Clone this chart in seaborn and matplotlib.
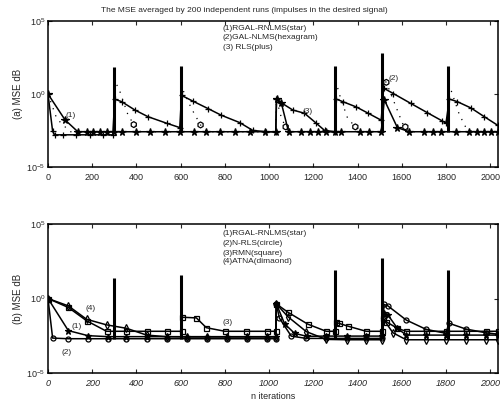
import matplotlib
matplotlib.use("Agg")
import matplotlib.pyplot as plt
import matplotlib.ticker as mticker
import seaborn as sns

# ---- data (MSE, linear units on a log axis) ----
impulse_x = [300, 600, 1300, 1510, 1810]

# (a) top panel
top_star_x = [0, 77, 135, 175, 205, 235, 265, 300, 333, 400, 460, 528, 596, 660, 714, 776,
              844, 912, 980, 1030, 1034, 1055, 1088, 1145, 1183, 1220, 1258, 1300, 1326,
              1409, 1453, 1507, 1521, 1580, 1634, 1702, 1740, 1777, 1845, 1905, 1942,
              1972, 2003, 2035]
top_star_y = [1.0, 1.7e-2, 2.6e-3, 2.6e-3, 2.6e-3, 2.6e-3, 2.6e-3, 2.6e-3, 2.6e-3, 2.6e-3,
              2.6e-3, 2.6e-3, 2.6e-3, 2.6e-3, 2.6e-3, 2.6e-3, 2.6e-3, 2.6e-3, 2.6e-3, 2.6e-3,
              0.45, 0.25, 2.6e-3, 2.6e-3, 2.6e-3, 2.6e-3, 2.6e-3, 2.6e-3, 2.6e-3, 2.6e-3,
              2.6e-3, 2.6e-3, 0.4, 5e-3, 2.6e-3, 2.6e-3, 2.6e-3, 2.6e-3, 2.6e-3, 2.6e-3,
              2.6e-3, 2.6e-3, 2.6e-3, 2.6e-3]

top_gal_x = [0, 40, 100, 298, 302, 320, 361, 388, 420, 600, 604, 649, 690, 720, 1030, 1033,
             1056, 1075, 1100, 1300, 1303, 1322, 1355, 1390, 1420, 1510, 1513, 1530, 1603,
             1616, 1640, 1810, 1813, 1860, 1890, 1920, 2035]
top_gal_y = [1.0, 2e-2, 2.6e-3, 2.6e-3, 7.0, 2.5, 4e-2, 8e-3, 2.6e-3, 2.6e-3, 3.0, 0.1,
             7.6e-3, 2.6e-3, 2.6e-3, 0.45, 2.2e-2, 5.6e-3, 2.6e-3, 2.6e-3, 6.3, 0.6, 2.2e-2,
             5.6e-3, 2.6e-3, 2.6e-3, 10.0, 6.3, 1e-2, 5.6e-3, 2.6e-3, 2.6e-3, 5.0, 4e-2,
             5e-3, 2.6e-3, 2.6e-3]
top_gal_mark_x = [388, 690, 1075, 1390, 1530, 1616]
top_gal_mark_y = [8e-3, 7.6e-3, 5.6e-3, 5.6e-3, 6.3, 5.6e-3]

top_rls_x = [0, 21, 30, 66, 126, 190, 250, 293, 302, 333, 393, 452, 536, 596, 604, 656,
             724, 784, 867, 926, 987, 1030, 1033, 1055, 1107, 1160, 1213, 1251, 1298, 1303,
             1333, 1394, 1446, 1507, 1518, 1562, 1640, 1716, 1784, 1800, 1815, 1851, 1913,
             1973, 2035]
top_rls_y = [1.0, 2.8e-3, 1.6e-3, 1.6e-3, 1.6e-3, 1.6e-3, 1.6e-3, 1.6e-3, 0.44, 0.3, 0.08,
             2.8e-2, 1e-2, 5e-3, 0.8, 0.32, 0.1, 3.5e-2, 1.1e-2, 3.2e-3, 2.6e-3, 2.6e-3,
             0.45, 0.25, 0.08, 4.8e-2, 1e-2, 3.2e-3, 2.6e-3, 0.45, 0.3, 0.13, 5e-2, 1.6e-2,
             2.5, 1.07, 0.23, 5.2e-2, 1.4e-2, 1e-2, 0.45, 0.3, 0.11, 2.8e-2, 7e-3]

top_spike_top = [70, 80, 80, 630, 80]
top_spike_base = 2.6e-3

# (b) bottom panel
bot_star_x = [0, 92, 181, 272, 355, 446, 536, 630, 720, 810, 900, 990, 1030, 1033, 1070,
              1115, 1170, 1258, 1350, 1439, 1510, 1520, 1537, 1580, 1620, 1710, 1800, 1890,
              1981, 2035]
bot_star_y = [1.0, 7e-3, 3.2e-3, 2.75e-3, 2.75e-3, 2.75e-3, 2.75e-3, 2.75e-3, 2.75e-3,
              2.75e-3, 2.75e-3, 2.75e-3, 2.75e-3, 0.43, 2e-2, 4.6e-3, 2.9e-3, 3e-3, 3e-3,
              3e-3, 3e-3, 0.1, 8e-2, 1e-2, 3.5e-3, 3.5e-3, 3.5e-3, 3.5e-3, 3.5e-3, 3.5e-3]

bot_nrls_x = [0, 21, 92, 181, 272, 355, 446, 536, 630, 720, 810, 900, 990, 1030, 1033, 1046,
              1100, 1168, 1258, 1350, 1439, 1510, 1520, 1537, 1620, 1710, 1800, 1813, 1890,
              1981, 2035]
bot_nrls_y = [1.0, 2.2e-3, 2e-3, 2e-3, 2e-3, 2e-3, 2e-3, 2e-3, 2e-3, 2e-3, 2e-3, 2e-3, 2e-3,
              2e-3, 0.43, 5e-2, 3e-3, 2.1e-3, 2.1e-3, 2.1e-3, 2.1e-3, 2.1e-3, 0.4, 0.32,
              3.6e-2, 8.5e-3, 4.6e-3, 2.2e-2, 8.9e-3, 5e-3, 4e-3]

bot_rmn_x = [0, 92, 175, 265, 355, 446, 536, 604, 608, 671, 716, 800, 897, 990, 1030, 1033,
             1085, 1175, 1258, 1300, 1303, 1318, 1356, 1439, 1510, 1513, 1529, 1580, 1620,
             1710, 1800, 1890, 1981, 2035]
bot_rmn_y = [1.0, 0.25, 3.2e-2, 6.3e-3, 6.3e-3, 6.3e-3, 6.3e-3, 6.3e-3, 5.5e-2, 5e-2,
             1.1e-2, 6.3e-3, 6.3e-3, 6.3e-3, 6.3e-3, 0.43, 0.12, 1.9e-2, 6.3e-3, 6.3e-3,
             2.5e-2, 2.1e-2, 1.4e-2, 6.3e-3, 6.3e-3, 5e-2, 2.8e-2, 1e-2, 6.3e-3, 6.3e-3,
             6.3e-3, 6.3e-3, 6.3e-3, 6.3e-3]

bot_atna_x = [0, 92, 175, 265, 355, 446, 536, 630, 720, 810, 900, 990, 1030, 1033, 1085,
              1168, 1258, 1350, 1439, 1510, 1513, 1560, 1620, 1710, 1800, 1890, 1981, 2035]
bot_atna_y = [1.0, 0.32, 4e-2, 1.7e-2, 1e-2, 3.5e-3, 2.75e-3, 2.6e-3, 2.6e-3, 2.6e-3,
              2.6e-3, 2.6e-3, 2.6e-3, 0.43, 6e-2, 6e-3, 1.8e-3, 1.7e-3, 1.7e-3, 1.7e-3,
              5e-2, 5e-3, 1.7e-3, 1.7e-3, 1.7e-3, 1.7e-3, 1.7e-3, 1.7e-3]

bot_spike_top = [25, 40, 80, 500, 80]
bot_spike_base = 2e-3

top_legend = ["(1)RGAL-RNLMS(star)", "(2)GAL-NLMS(hexagram)", "(3) RLS(plus)"]
bot_legend = ["(1)RGAL-RNLMS(star)", "(2)N-RLS(circle)", "(3)RMN(square)", "(4)ATNA(dimaond)"]
xticks = [0, 200, 400, 600, 800, 1000, 1200, 1400, 1600, 1800, 2000]

sns.set_style("ticks")
plt.rcParams["font.family"] = ["Liberation Sans", "DejaVu Sans"]
plt.rcParams["font.size"] = 6
plt.rcParams["mathtext.fontset"] = "custom"
plt.rcParams["mathtext.rm"] = "Liberation Sans"
plt.rcParams["mathtext.it"] = "Liberation Sans:italic"

fig = plt.figure(figsize=(5.03, 4.0), dpi=100)
ax1 = fig.add_axes([0.0954, 0.5825, 0.8946, 0.365])
ax2 = fig.add_axes([0.0954, 0.0675, 0.8946, 0.3725])


def curve(ax, x, y, marker, ls="-", ms=4, filled=True, mark=True, lw=1.1):
    kw = dict(markeredgecolor="k", markeredgewidth=0.9, markersize=ms)
    if not filled:
        kw["markerfacecolor"] = "none"
    sns.lineplot(x=x, y=y, ax=ax, color="k", lw=lw, linestyle=ls,
                 marker=marker if mark else None, sort=False, estimator=None, **kw)


# top panel
curve(ax1, top_star_x, top_star_y, "*", ms=5.5)
curve(ax1, top_gal_x, top_gal_y, None, ls=(0, (1, 5)), mark=False, lw=0.9)
sns.scatterplot(x=top_gal_mark_x, y=top_gal_mark_y, ax=ax1, marker="h", s=18,
                facecolor="none", edgecolor="k", linewidth=0.9)
curve(ax1, top_rls_x, top_rls_y, "+", ms=5)
ax1.vlines(impulse_x, top_spike_base, top_spike_top, color="k", lw=2.2)

# bottom panel
curve(ax2, bot_star_x, bot_star_y, "*", ms=5)
curve(ax2, bot_nrls_x, bot_nrls_y, "o", ms=3.6, filled=False)
curve(ax2, bot_rmn_x, bot_rmn_y, "s", ms=3.6, filled=False)
curve(ax2, bot_atna_x, bot_atna_y, "d", ms=3.8, filled=False)
ax2.vlines(impulse_x, bot_spike_base, bot_spike_top, color="k", lw=2.2)

for ax in (ax1, ax2):
    ax.set_yscale("log")
    ax.set_ylim(1e-5, 1e5)
    ax.set_xlim(0, 2035)
    ax.set_xticks(xticks)
    ax.yaxis.set_major_locator(mticker.FixedLocator([1e-5, 1e0, 1e5]))
    ax.yaxis.set_minor_locator(mticker.NullLocator())
    ax.yaxis.set_major_formatter(mticker.LogFormatterSciNotation())
    ax.tick_params(direction="in", length=3, width=0.8, top=True, right=True,
                   labelsize=6.5, pad=4)
    ax.tick_params(axis="y", pad=2)
    for s in ax.spines.values():
        s.set_linewidth(1.1)
        s.set_color("k")
        s.set_visible(True)

for lbl in ax2.get_xticklabels():
    lbl.set_style("italic")

ax1.set_ylabel("(a) MSE dB", fontsize=7)
ax2.set_ylabel("(b) MSE dB", fontsize=7)
ax1.yaxis.set_label_coords(-0.055, 0.5)
ax2.yaxis.set_label_coords(-0.055, 0.5)
ax2.set_xlabel("n iterations", fontsize=6.5)
ax2.xaxis.set_label_coords(0.5, -0.128)

fig.text(244 / 503, 0.975, "The MSE averaged by 200 independent runs (impulses in the desired signal)",
         ha="center", va="center", fontsize=6)

for i, t in enumerate(top_legend):
    ax1.text(0.388, [0.952, 0.884, 0.817][i], t, transform=ax1.transAxes,
             ha="left", va="center", fontsize=6)
for i, t in enumerate(bot_legend):
    ax2.text(0.388, [0.933, 0.866, 0.805, 0.745][i], t, transform=ax2.transAxes,
             ha="left", va="center", fontsize=6)

# curve labels
ax1.text(80, 3.6e-2, "(1)", ha="left", va="center", fontsize=6)
ax1.text(1151, 6e-2, "(3)", ha="left", va="center", fontsize=6)
ax1.text(1540, 12, "(2)", ha="left", va="center", fontsize=6)
ax2.text(171, 0.2, "(4)", ha="left", va="center", fontsize=6)
ax2.text(107, 1.26e-2, "(1)", ha="left", va="center", fontsize=6)
ax2.text(62, 2.2e-4, "(2)", ha="left", va="center", fontsize=6)
ax2.text(789, 2.4e-2, "(3)", ha="left", va="center", fontsize=6)

fig.savefig("out.png", dpi=100)
